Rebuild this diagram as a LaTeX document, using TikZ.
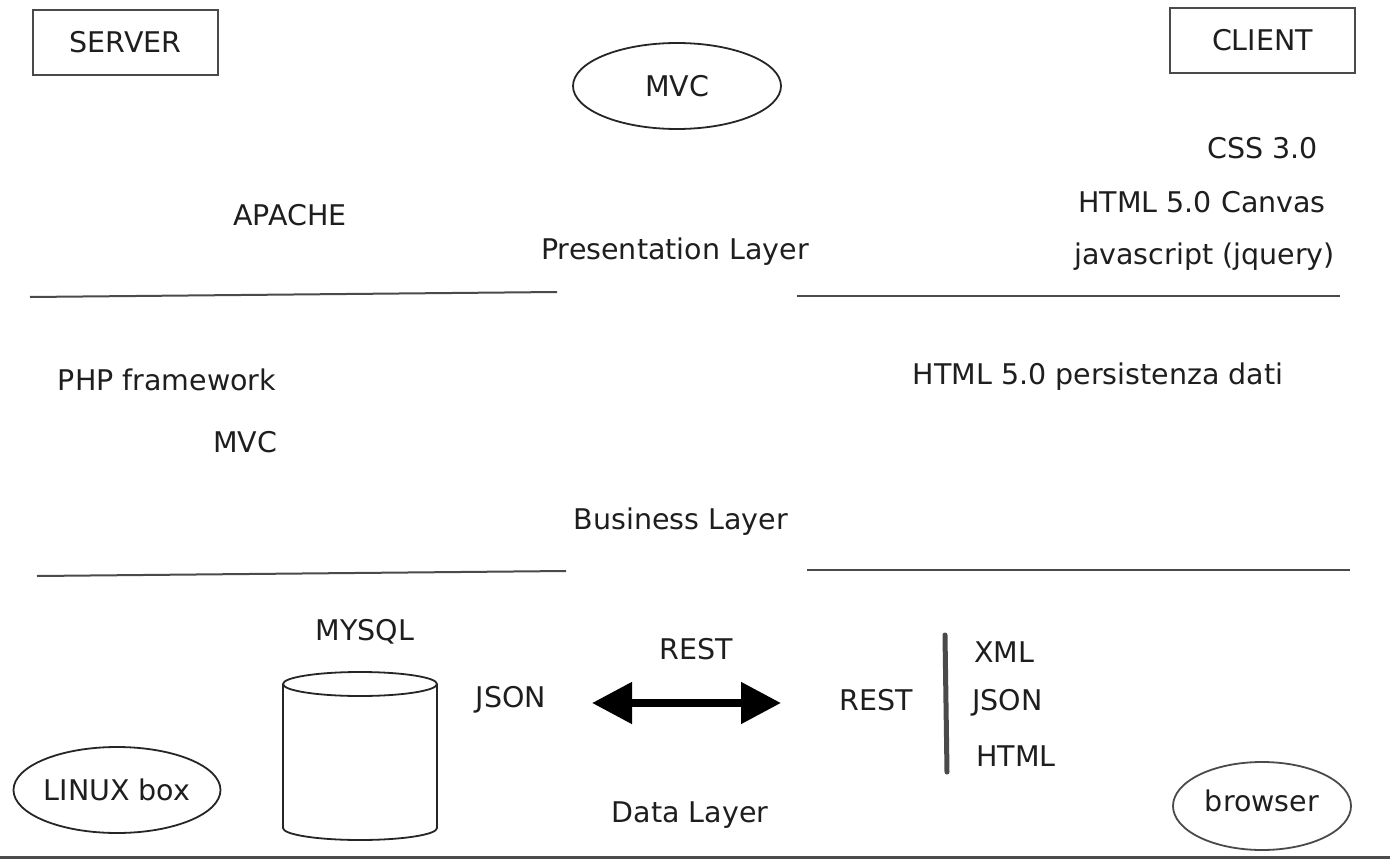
\documentclass[tikz,border=0pt]{standalone}
\usepackage{fontspec}
\setmainfont{DejaVu Sans}
\usetikzlibrary{shapes.geometric,arrows.meta}
\definecolor{txt}{HTML}{1E1E1E}
\definecolor{ln}{HTML}{4A4A4A}
\tikzset{
  lbl/.style={font=\fontsize{28.5}{31}\selectfont, text=txt, inner sep=0pt},
  boxnode/.style={draw=ln, line width=2pt, minimum width=185pt, minimum height=65pt, inner sep=0pt},
  ovalnode/.style={ellipse, draw=black!85, line width=1.8pt, inner sep=0pt},
  layerline/.style={draw=ln, line width=2pt},
}
\begin{document}
\begin{tikzpicture}[x=1pt,y=-1pt]
\useasboundingbox (0,0) rectangle (1390,859);
\fill[white] (0,0) rectangle (1390,859);
% corner boxes
\node[boxnode] (server) at (125.5,42.5) {};
\node[lbl] at (server) {SERVER};
\node[boxnode] (client) at (1262.5,40.5) {};
\node[lbl] at (client) {CLIENT};
% MVC oval
\node[ovalnode, minimum width=208pt, minimum height=86pt] (mvctop) at (677,86) {};
\node[lbl] at (mvctop) {MVC};
% presentation layer
\node[lbl] (apache) at (290,215) {APACHE};
\node[lbl] (pres) at (675,252) {Presentation Layer};
\node[lbl, anchor=east] (css) at (1318,148) {CSS 3.0};
\node[lbl, anchor=east] (canvas) at (1326,202) {HTML 5.0 Canvas};
\node[lbl, anchor=east] (js) at (1335,257) {javascript (jquery)};
\coordinate (l1a) at (30,297); \coordinate (l1b) at (557,292);
\coordinate (r1a) at (797,296); \coordinate (r1b) at (1340,296);
\draw[layerline] (l1a) -- (l1b);
\draw[layerline] (r1a) -- (r1b);
% business layer
\node[lbl] (php) at (167,380) {PHP framework};
\node[lbl] (mvc2) at (245,442) {MVC};
\node[lbl] (persist) at (1098,377) {HTML 5.0 persistenza dati};
\node[lbl] (bus) at (681,522) {Business Layer};
\coordinate (l2a) at (37,576); \coordinate (l2b) at (566,571);
\coordinate (r2a) at (807,570); \coordinate (r2b) at (1350,570);
\draw[layerline] (l2a) -- (l2b);
\draw[layerline] (r2a) -- (r2b);
% data layer
\node[lbl] (mysql) at (365,632) {MYSQL};
\draw[black!85, line width=1.8pt] (360,684) ellipse [x radius=77, y radius=12];
\draw[black!85, line width=1.8pt] (283,684) -- (283,828) arc[start angle=180, end angle=0, x radius=77, y radius=12] -- (437,684);
\node[lbl] (json1) at (511,700) {JSON};
\node[lbl] (restc) at (696,649) {REST};
\coordinate (al) at (592,703); \coordinate (ar) at (781,703);
\draw[black, line width=8pt, {Triangle[length=40pt,width=40pt]}-{Triangle[length=40pt,width=40pt]}] (al) -- (ar);
\node[lbl] (data) at (690,815) {Data Layer};
\node[lbl] (restr) at (876,700) {REST};
\coordinate (va) at (945,635); \coordinate (vb) at (947,772);
\draw[ln, line width=5pt, line cap=round] (va) -- (vb);
\node[lbl, anchor=west] (xml) at (974,652) {XML};
\node[lbl, anchor=west] (json2) at (972,703) {JSON};
\node[lbl, anchor=west] (html) at (976,756) {HTML};
% ovals at bottom
\node[ovalnode, minimum width=207pt, minimum height=86pt] (linux) at (117,790) {};
\node[lbl] at (linux) {LINUX box};
\node[ovalnode, draw=ln, minimum width=178pt, minimum height=88pt] (browser) at (1262,806) {};
\node[lbl] at (1262,801) {browser};
% bottom rule
\coordinate (ba) at (0,857); \coordinate (bb) at (1390,857);
\draw[draw=black!70, line width=3pt] (ba) -- (bb);
\end{tikzpicture}
\end{document}
